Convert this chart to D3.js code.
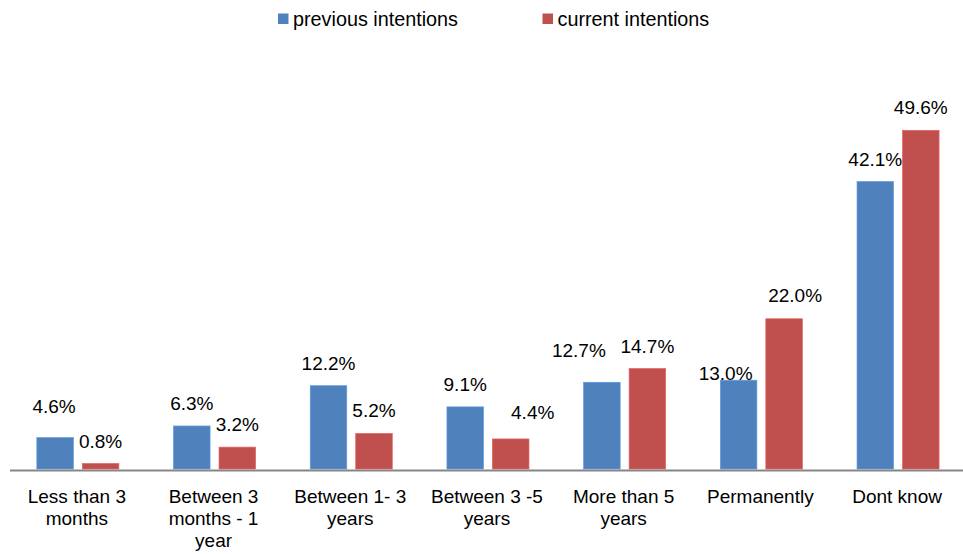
<!DOCTYPE html>
<html>
<head>
<meta charset="utf-8">
<script src="https://cdn.jsdelivr.net/npm/d3@7"></script>
<style>
  html, body { margin: 0; padding: 0; background: #fff; }
  svg { display: block; }
  text { font-family: "Liberation Sans", Arial, sans-serif; fill: #000; }
</style>
</head>
<body>
<svg id="chart" width="963" height="554"></svg>
<script>
// ---- data ----
const categories = ["Less than 3 months", "Between 3 months - 1 year", "Between 1- 3 years",
                    "Between 3 -5 years", "More than 5 years", "Permanently", "Dont know"];
const seriesNames = ["previous intentions", "current intentions"];
const previousValues = [4.6, 6.3, 12.2, 9.1, 12.7, 13.0, 42.1];
const currentValues  = [0.8, 3.2, 5.2, 4.4, 14.7, 22.0, 49.6];

// ---- style ----
const colors = {"previous intentions": "#4F81BD", "current intentions": "#C0504D"};
const fontSize = 19;

// manual label nudges (as in the original, some labels were moved)
const labelNudge = {
  "previous intentions|0": [-1, -9],
  "current intentions|3": [22, -4],
  "previous intentions|4": [-23, -9],
  "previous intentions|5": [-13, 16],
  "current intentions|5": [11, -1]
};

const svg = d3.select("#chart");
const baseY = 469;

const x0 = d3.scaleBand().domain(categories).range([9.5, 966.4]).paddingInner(0).paddingOuter(0);
const bw = x0.bandwidth();
const pad = bw * 0.2;
const x1 = d3.scaleBand().domain(seriesNames).range([pad, bw - pad]).paddingInner(0.197).paddingOuter(0);
const y = d3.scaleLinear().domain([0, 60]).range([baseY, 59.3]);

const rows = [];
categories.forEach((c, i) => {
  rows.push({cat: c, i, s: seriesNames[0], v: previousValues[i]});
  rows.push({cat: c, i, s: seriesNames[1], v: currentValues[i]});
});

// bars
svg.append("g").selectAll("rect").data(rows).join("rect")
  .attr("x", d => x0(d.cat) + x1(d.s))
  .attr("y", d => y(d.v))
  .attr("width", x1.bandwidth())
  .attr("height", d => baseY - y(d.v))
  .attr("fill", d => colors[d.s])
  .attr("stroke", d => d3.color(colors[d.s]).brighter(0.5))
  .attr("stroke-width", 0.7);

// axis
const axis = svg.append("g")
  .attr("transform", `translate(0,${baseY + 1})`)
  .call(d3.axisBottom(x0).tickSize(0).tickSizeOuter(0));
axis.select(".domain").attr("stroke", "#868686").attr("stroke-width", 2);
axis.selectAll(".tick text").remove();

// wrapped category labels
function wrapWords(text, maxW) {
  const measure = svg.append("text").attr("font-size", fontSize);
  const words = text.split(" ");
  const lines = [];
  let cur = [];
  words.forEach(w => {
    const test = cur.concat([w]).join(" ");
    measure.text(test);
    if (measure.node().getComputedTextLength() > maxW && cur.length) {
      lines.push(cur.join(" "));
      cur = [w];
    } else {
      cur.push(w);
    }
  });
  if (cur.length) lines.push(cur.join(" "));
  measure.remove();
  return lines;
}

const labG = svg.append("g");
categories.forEach(c => {
  const lines = wrapWords(c, 125);
  const t = labG.append("text")
    .attr("text-anchor", "middle")
    .attr("font-size", fontSize)
    .attr("x", x0(c) + bw / 2 - 1)
    .attr("y", 503);
  lines.forEach((ln, k) => {
    t.append("tspan")
      .attr("x", x0(c) + bw / 2 - 1)
      .attr("dy", k === 0 ? 0 : 22)
      .text(ln);
  });
});

// value labels
const fmt = d3.format(".1f");
svg.append("g").selectAll("text").data(rows).join("text")
  .attr("text-anchor", "middle")
  .attr("font-size", fontSize)
  .attr("x", d => x0(d.cat) + x1(d.s) + x1.bandwidth() / 2 + ((labelNudge[d.s + "|" + d.i] || [0, 0])[0]))
  .attr("y", d => y(d.v) - 16 + ((labelNudge[d.s + "|" + d.i] || [0, 0])[1]))
  .text(d => fmt(d.v) + "%");

// legend
const legendPos = [278, 542.5];
const leg = svg.append("g");
seriesNames.forEach((s, k) => {
  const g = leg.append("g").attr("transform", `translate(${legendPos[k]},0)`);
  g.append("rect").attr("x", 0).attr("y", 13.5).attr("width", 10.5).attr("height", 10.5).attr("fill", colors[s]);
  g.append("text").attr("x", 15).attr("y", 26).attr("font-size", 19.8).text(s);
});
</script>
</body>
</html>
